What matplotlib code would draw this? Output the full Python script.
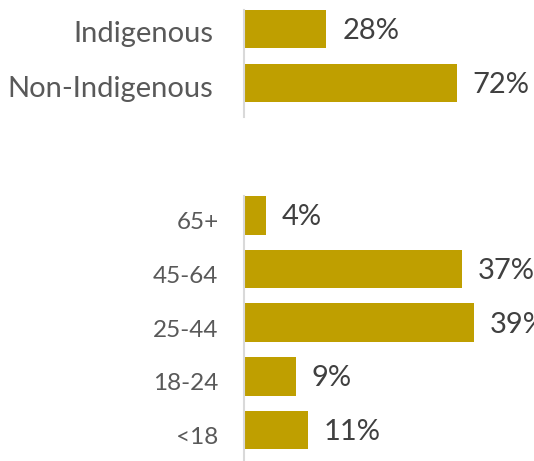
import matplotlib.pyplot as plt

# data
groups = ["Non-Indigenous", "Indigenous"]
group_pct = [72, 28]

ages = ["<18", "18-24", "25-44", "45-64", "65+"]
age_pct = [10.9, 8.9, 39.0, 37.0, 3.8]

BAR_COLOR = "#BF9F00"
AXIS_COLOR = "#D9D9D9"
LABEL_COLOR = "#595959"
VALUE_COLOR = "#404040"
FONT = "Lato"

fig = plt.figure(figsize=(5.34, 4.61), dpi=100)

W, H = 534, 461
x0 = 243.5


def make_axes(top_px, bottom_px):
    return fig.add_axes([x0 / W, 1 - bottom_px / H, 1 - x0 / W, (bottom_px - top_px) / H])


def draw(ax, cats, vals, height, label_size, pad, drop):
    ax.barh(range(len(cats)), vals, height=height, color=BAR_COLOR)
    for side in ["top", "right", "bottom"]:
        ax.spines[side].set_visible(False)
    ax.spines["left"].set_color(AXIS_COLOR)
    ax.spines["left"].set_linewidth(1.5)
    ax.set_xticks([])
    ax.set_yticks([])
    ax.patch.set_visible(False)
    for i, (c, v) in enumerate(zip(cats, vals)):
        # category label left of the axis
        ax.annotate(c, (0, i), xytext=(-pad, -drop), textcoords="offset points",
                    va="center", ha="right", fontsize=label_size, color=LABEL_COLOR,
                    fontfamily=FONT, annotation_clip=False)
        # value label right of the bar
        ax.annotate(f"{v:.0f}%", (v, i), xytext=(11.5, -1.5), textcoords="offset points",
                    va="center", ha="left", fontsize=21, color=VALUE_COLOR,
                    fontfamily=FONT, annotation_clip=False)


# top chart
ax1 = make_axes(10, 117)
draw(ax1, groups, group_pct, 0.7, 21, 22, 4)
ax1.set_ylim(-0.63, 1.35)
ax1.set_xlim(0, (W - x0) / 2.96)

# bottom chart
ax2 = make_axes(196, 460)
draw(ax2, ages, age_pct, 0.72, 17.5, 18, 5.5)
ax2.set_ylim(-0.56, 4.36)
ax2.set_xlim(0, (W - x0) / 5.9)

fig.savefig("out.png", dpi=100)
